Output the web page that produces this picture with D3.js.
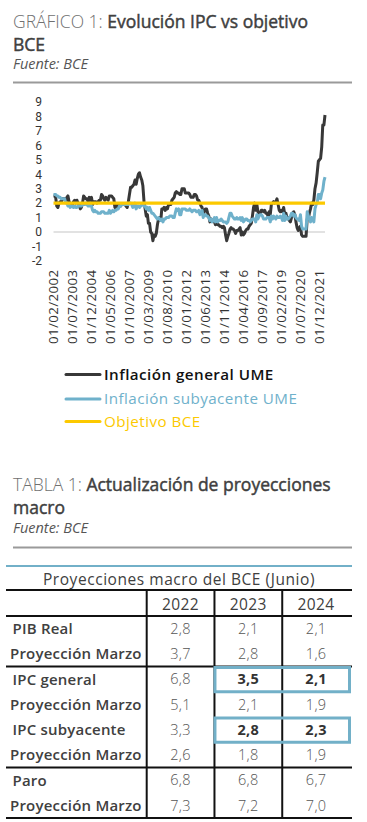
<!DOCTYPE html>
<html><head><meta charset="utf-8">
<script src="https://cdn.jsdelivr.net/npm/d3@7"></script>
<style>
body{margin:0;background:#fff;}
svg text{font-family:"Open Sans",sans-serif;}
</style></head><body>
<svg id="c" width="367" height="822"></svg>
<script>
// ---------- DATA ----------
const startMonth = "2002-02-01";
const endMonth = "2022-05-01";
// Inflación general UME (monthly, from Feb 2002)
const general = [
 2.5,2.5,2.4,1.8,1.7,2.0,2.1,2.1,2.3,2.3,2.3,
 2.1,2.4,2.5,2.1,1.8,1.9,1.9,2.1,2.2,2.0,2.2,2.0,
 1.9,1.6,1.7,2.0,2.5,2.4,2.3,2.3,2.1,2.4,2.2,2.4,
 1.9,2.1,2.1,2.1,2.0,2.1,2.2,2.2,2.6,2.5,2.3,2.2,
 2.4,2.3,2.2,2.5,2.5,2.5,2.4,2.3,1.7,1.6,1.9,1.9,
 1.8,1.8,1.9,1.9,1.9,1.9,1.8,1.7,2.1,2.6,3.1,3.1,
 3.2,3.3,3.6,3.3,3.7,4.0,4.1,3.8,3.6,3.2,2.1,1.6,
 1.1,1.2,0.6,0.6,0.0,-0.1,-0.6,-0.2,-0.3,-0.1,0.5,0.9,
 1.0,0.8,1.6,1.6,1.7,1.5,1.7,1.6,1.9,1.9,1.9,2.2,
 2.3,2.4,2.7,2.8,2.7,2.7,2.6,2.6,3.0,3.0,3.0,2.7,
 2.7,2.7,2.7,2.6,2.4,2.4,2.4,2.6,2.6,2.5,2.2,2.2,
 2.0,1.8,1.7,1.2,1.4,1.6,1.6,1.3,1.1,0.7,0.9,0.8,
 0.8,0.7,0.5,0.7,0.5,0.5,0.4,0.4,0.3,0.4,0.3,-0.2,
 -0.6,-0.3,-0.1,0.2,0.3,0.2,0.2,0.1,-0.1,0.1,0.1,0.2,
 0.3,-0.2,0.0,-0.2,-0.1,0.1,0.2,0.2,0.4,0.5,0.6,1.1,
 1.7,2.0,1.5,1.9,1.4,1.3,1.3,1.5,1.5,1.4,1.5,1.3,
 1.3,1.1,1.4,1.2,1.9,2.0,2.1,2.0,2.1,2.3,1.9,1.5,
 1.4,1.5,1.4,1.7,1.2,1.3,1.0,1.0,0.8,0.7,1.0,1.3,
 1.4,1.2,0.7,0.3,0.1,0.3,0.4,-0.2,-0.3,-0.3,-0.3,-0.3,
 0.9,0.9,1.3,1.6,2.0,1.9,2.2,3.0,3.4,4.1,4.9,5.0,
 5.1,5.9,7.4,7.4,8.1
];
// Inflación subyacente UME (monthly, from Feb 2002)
const core = [
 2.6,2.6,2.6,2.5,2.5,2.4,2.4,2.3,2.3,2.3,2.3,
 2.0,2.0,1.8,1.9,1.7,1.8,1.8,1.7,1.8,1.7,1.7,1.8,
 1.8,1.8,1.8,1.9,1.9,1.9,2.0,1.9,1.8,1.8,1.9,1.8,
 1.5,1.4,1.5,1.4,1.4,1.3,1.3,1.3,1.4,1.4,1.4,1.3,
 1.3,1.3,1.3,1.5,1.3,1.4,1.5,1.4,1.5,1.5,1.6,1.6,
 1.8,1.8,1.9,1.9,1.9,1.9,1.9,1.9,1.9,2.0,2.0,1.9,
 1.7,1.8,2.0,1.6,1.8,1.8,1.7,1.8,1.9,1.9,1.8,1.8,
 1.6,1.7,1.5,1.7,1.5,1.3,1.3,1.2,1.1,1.0,0.9,1.0,
 0.9,0.8,0.9,0.7,0.9,0.9,1.0,1.0,1.0,1.1,1.1,1.1,
 1.0,1.0,1.3,1.6,1.5,1.6,1.2,1.2,1.6,1.6,1.6,1.6,
 1.5,1.5,1.5,1.6,1.5,1.4,1.5,1.5,1.5,1.4,1.4,1.5,
 1.2,1.3,1.5,1.0,1.2,1.2,1.1,1.1,1.0,0.8,0.9,0.7,
 0.8,1.0,0.7,1.0,0.7,0.8,0.8,0.9,0.8,0.7,0.7,0.7,
 0.6,0.7,1.0,1.3,1.3,1.1,1.0,0.9,0.9,1.0,0.9,0.9,
 1.0,0.8,1.0,0.7,0.8,0.9,0.9,0.8,0.8,0.7,0.8,0.9,
 0.9,0.9,0.7,1.2,0.9,1.1,1.2,1.2,1.1,0.9,0.9,0.9,
 1.0,1.0,1.0,0.7,1.1,0.9,1.1,1.0,0.9,1.1,1.0,1.0,
 1.1,1.0,0.8,1.3,0.8,1.1,0.9,0.9,1.0,1.1,1.3,1.3,
 1.1,1.2,1.0,0.9,0.9,0.8,1.2,0.4,0.2,0.2,0.2,0.2,
 1.4,1.1,0.9,0.7,1.0,0.9,0.7,1.6,1.9,2.0,2.6,2.6,
 2.3,2.7,2.9,3.5,3.8
];
const target = 2;
const yTicks = [-2,-1,0,1,2,3,4,5,6,7,8,9];
const xTickLabels = ["01/02/2002","01/07/2003","01/12/2004","01/05/2006","01/10/2007","01/03/2009",
 "01/08/2010","01/01/2012","01/06/2013","01/11/2014","01/04/2016","01/09/2017","01/02/2019",
 "01/07/2020","01/12/2021"];
const seriesNames = ["Inflación general UME","Inflación subyacente UME","Objetivo BCE"];
const seriesColors = ["#383838","#6fb1cb","#fcc900"];
const legendTextColors = ["#111111","#6fb1cb","#fcc900"];

const tableTitle = "Proyecciones macro del BCE (Junio)";
const years = ["2022","2023","2024"];
const rowLabels = ["PIB Real","Proyección Marzo","IPC general","Proyección Marzo",
 "IPC subyacente","Proyección Marzo","Paro","Proyección Marzo"];
const v2022 = [2.8,3.7,6.8,5.1,3.3,2.6,6.8,7.3];
const v2023 = [2.1,2.8,3.5,2.1,2.8,1.8,6.8,7.2];
const v2024 = [2.1,1.6,2.1,1.9,2.3,1.9,6.7,7.0];
const highlightedRows = [2,4];

// ---------- DRAW ----------
const svg = d3.select("#c");
const ink = "#404040";

function heading(y1, y2, y3, light, dark, line2){
  const t = svg.append("text").attr("x",13).attr("y",y1).attr("font-size",17.5);
  t.append("tspan").attr("fill","#707070").attr("font-weight",300).text(light);
  t.append("tspan").attr("fill",ink).attr("font-weight",400)
    .attr("stroke",ink).attr("stroke-width",0.45).text(dark);
  svg.append("text").attr("x",13).attr("y",y2).attr("font-size",17.5)
    .attr("fill",ink).attr("font-weight",400).attr("stroke",ink).attr("stroke-width",0.45).text(line2);
  svg.append("text").attr("x",13).attr("y",y3).attr("font-size",14.5)
    .attr("font-style","italic").attr("fill","#555").text("Fuente: BCE");
}
heading(28, 50.5, 69, "GRÁFICO 1: ", "Evolución IPC vs objetivo", "BCE");
svg.append("line").attr("x1",13).attr("x2",352).attr("y1",82.5).attr("y2",82.5)
  .attr("stroke","#9a9a9a").attr("stroke-width",2);

// chart
const parseDay = d3.timeParse("%Y-%m-%d");
const t0 = parseDay(startMonth), t1 = parseDay(endMonth);
const x = d3.scaleTime().domain([t0,t1]).range([53.5,325]);
const y = d3.scaleLinear().domain([-2,9]).range([260.9,102]);
const dateAt = i => d3.timeMonth.offset(t0,i);

svg.append("line").attr("x1",x(t0)).attr("x2",x(t1)).attr("y1",y(0)).attr("y2",y(0))
  .attr("stroke","#d9d9d9").attr("stroke-width",1.5);

svg.append("g").selectAll("text").data(yTicks).join("text")
  .attr("x",42).attr("y",d=>y(d)).attr("dy","0.36em").attr("text-anchor","end")
  .style("font-family","Roboto, sans-serif")
  .attr("font-size",12).attr("fill","#333").text(d=>d);

const parseLbl = d3.timeParse("%d/%m/%Y");
svg.append("g").selectAll("text").data(xTickLabels).join("text")
  .attr("transform",d=>`translate(${x(parseLbl(d))},269.5) rotate(-90)`)
  .attr("dy","0.36em").attr("text-anchor","end").attr("letter-spacing",0.4)
  .attr("font-size",13.3).attr("fill","#333").text(d=>d);

const line = d3.line().x((d,i)=>x(dateAt(i))).y(d=>y(d));
svg.append("path").datum(general).attr("d",line).attr("fill","none")
  .attr("stroke",seriesColors[0]).attr("stroke-width",3).attr("stroke-linejoin","round");
svg.append("path").datum(core).attr("d",line).attr("fill","none")
  .attr("stroke",seriesColors[1]).attr("stroke-width",3).attr("stroke-linejoin","round");
svg.append("line").attr("x1",x(t0)).attr("x2",x(t1)).attr("y1",y(target)).attr("y2",y(target))
  .attr("stroke",seriesColors[2]).attr("stroke-width",3.2);

// legend
const legY = [374.5, 399, 421.5];
const lg = svg.append("g").selectAll("g").data(seriesNames).join("g")
  .attr("transform",(d,i)=>`translate(0,${legY[i]})`);
lg.append("line").attr("x1",66).attr("x2",100).attr("stroke",(d,i)=>seriesColors[i])
  .attr("stroke-width",3).attr("stroke-linecap","round");
lg.append("text").attr("x",104).attr("dy","0.36em").attr("font-size",15.2)
  .attr("letter-spacing",0.45)
  .attr("font-weight",(d,i)=>i===0?600:500).attr("fill",(d,i)=>legendTextColors[i]).text(d=>d);

// table heading
heading(491, 513.5, 533, "TABLA 1: ", "Actualización de proyecciones", "macro");
svg.append("line").attr("x1",13).attr("x2",352).attr("y1",547.5).attr("y2",547.5)
  .attr("stroke","#9a9a9a").attr("stroke-width",2);

// table
const fmt = d3.formatLocale({decimal:",",thousands:".",grouping:[3],currency:["","€"]}).format(".1f");
const colX = d3.scaleBand().domain(years).range([146.7,350]);
const rowY = d3.scaleBand().domain(d3.range(rowLabels.length)).range([616,818]);
const blue = "#72b0c8";
svg.append("line").attr("x1",6).attr("x2",352).attr("y1",566).attr("y2",566)
  .attr("stroke",blue).attr("stroke-width",1.8);
svg.append("text").attr("x",179).attr("y",584.5).attr("text-anchor","middle")
  .attr("font-size",15.5).attr("letter-spacing",0.55).attr("font-weight",500)
  .attr("fill",ink).text(tableTitle);

const hLines = [590, 616, rowY(2), rowY(6), 818];
svg.append("g").selectAll("line").data(hLines).join("line")
  .attr("x1",6).attr("x2",352).attr("y1",d=>d).attr("y2",d=>d)
  .attr("stroke","#111").attr("stroke-width",2);
const vLines = [146.7, colX("2023"), colX("2024")];
svg.append("g").selectAll("line").data(vLines).join("line")
  .attr("x1",d=>d).attr("x2",d=>d).attr("y1",590).attr("y2",818)
  .attr("stroke","#111").attr("stroke-width",2);

svg.append("g").selectAll("text").data(years).join("text")
  .attr("x",d=>colX(d)+colX.bandwidth()/2).attr("y",609.5).attr("text-anchor","middle")
  .attr("font-size",15.5).attr("letter-spacing",0.4).attr("font-weight",500).attr("fill",ink).text(d=>d);

const rows = svg.append("g").selectAll("g").data(rowLabels).join("g")
  .attr("transform",(d,i)=>`translate(0,${rowY(i)+rowY.bandwidth()/2})`);
rows.append("text").attr("x",d=>d.startsWith("Proyección")?10:12.5).attr("dy","0.36em")
  .attr("font-size",15).attr("letter-spacing",0.2).attr("font-weight",600).attr("fill",ink).text(d=>d);
const cols = [v2022,v2023,v2024];
rows.each(function(d,i){
  const g = d3.select(this);
  years.forEach((yr,j)=>{
    const bold = highlightedRows.includes(i) && j>0;
    g.append("text").attr("x",colX(yr)+colX.bandwidth()/2).attr("dy","0.36em")
      .attr("text-anchor","middle").attr("font-size",14.5).attr("letter-spacing",0.3)
      .attr("font-weight",bold?700:300).attr("fill",bold?"#333":"#555")
      .text(fmt(cols[j][i]));
  });
});
// highlight boxes
svg.append("g").selectAll("rect").data(highlightedRows).join("rect")
  .attr("x",colX("2023")+0.5).attr("width",350-colX("2023")-1)
  .attr("y",d=>rowY(d)+1).attr("height",rowY.bandwidth()-1)
  .attr("fill","none").attr("stroke",blue).attr("stroke-width",3);
</script>
</body></html>
